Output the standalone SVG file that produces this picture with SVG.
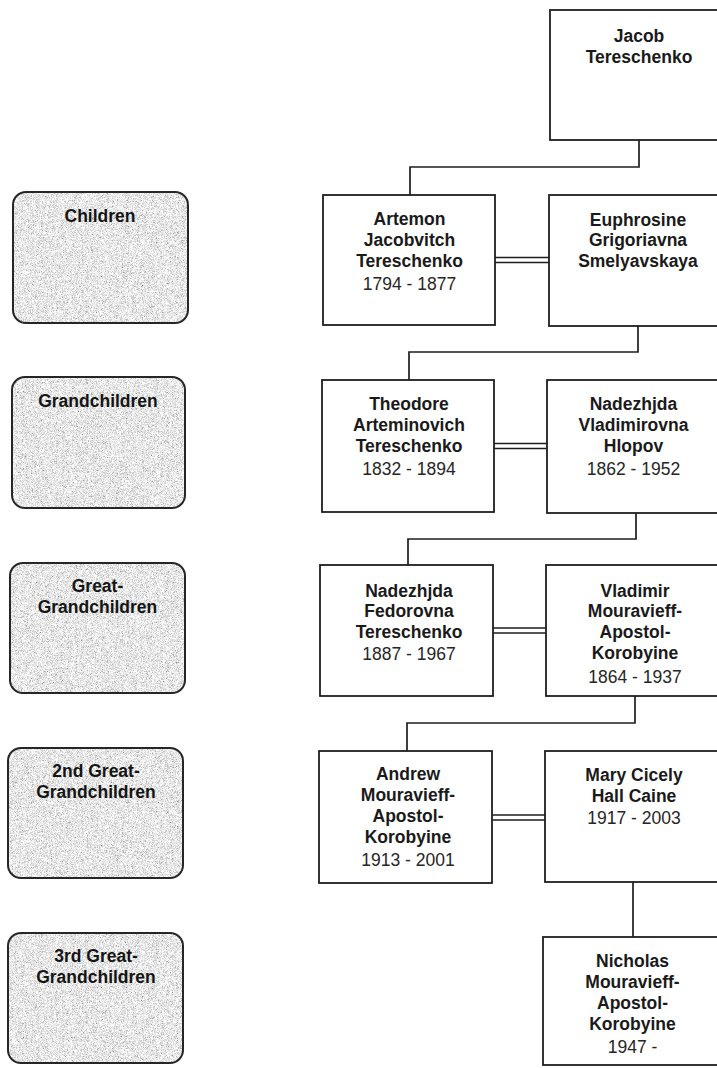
<svg xmlns="http://www.w3.org/2000/svg" width="717" height="1068" viewBox="0 0 717 1068">
  <style>
    .person rect { fill: #ffffff; stroke: #1e1e1e; stroke-width: 1.8; }
    .gen .bg { fill: #d0d0d0; }
    .gen .grain { filter: url(#grain); }
    .gen .edge { fill: none; stroke: #262626; stroke-width: 2; }
    text { font-family: "Liberation Sans", Arial, sans-serif; font-size: 17.5px; text-anchor: middle; }
    .nm { font-weight: bold; fill: #1a1a1a; }
    .yr { fill: #262626; }
    .lbl { font-weight: bold; fill: #151515; }
    #connectors path { fill: none; stroke: #1e1e1e; stroke-width: 1.7; }
    #connectors .wed { stroke-width: 1.4; }
  </style>
  <defs>
    <!-- fine stippled grey texture for the generation labels -->
    <filter id="grain" x="0" y="0" width="1" height="1">
      <feTurbulence type="fractalNoise" baseFrequency="1.8" numOctaves="2" seed="7" result="noise"/>
      <feColorMatrix in="noise" type="matrix" values="0.33 0.33 0.33 0 0  0.33 0.33 0.33 0 0  0.33 0.33 0.33 0 0  0 0 0 0 1" result="gray"/>
      <feComponentTransfer in="gray" result="tone">
        <feFuncR type="linear" slope="2.4" intercept="-0.38"/>
        <feFuncG type="linear" slope="2.4" intercept="-0.38"/>
        <feFuncB type="linear" slope="2.4" intercept="-0.38"/>
      </feComponentTransfer>
      <feComposite in="tone" in2="SourceGraphic" operator="in"/>
    </filter>
  </defs>

  <!-- generation labels -->
  <g id="gen-children" class="gen">
    <rect class="bg grain" x="13" y="192" width="175" height="131" rx="13"/>
    <rect class="edge" x="13" y="192" width="175" height="131" rx="13"/>
    <text class="lbl" x="100" y="222">Children</text>
  </g>
  <g id="gen-grandchildren" class="gen">
    <rect class="bg grain" x="12" y="377" width="173" height="131" rx="13"/>
    <rect class="edge" x="12" y="377" width="173" height="131" rx="13"/>
    <text class="lbl" x="98" y="407">Grandchildren</text>
  </g>
  <g id="gen-great" class="gen">
    <rect class="bg grain" x="10" y="563" width="175" height="130" rx="13"/>
    <rect class="edge" x="10" y="563" width="175" height="130" rx="13"/>
    <text class="lbl" x="97.5" y="592">Great-</text>
    <text class="lbl" x="97.5" y="612.5">Grandchildren</text>
  </g>
  <g id="gen-2nd-great" class="gen">
    <rect class="bg grain" x="8" y="748" width="175" height="130" rx="13"/>
    <rect class="edge" x="8" y="748" width="175" height="130" rx="13"/>
    <text class="lbl" x="96" y="777">2nd Great-</text>
    <text class="lbl" x="96" y="797.5">Grandchildren</text>
  </g>
  <g id="gen-3rd-great" class="gen">
    <rect class="bg grain" x="8" y="933" width="175" height="130" rx="13"/>
    <rect class="edge" x="8" y="933" width="175" height="130" rx="13"/>
    <text class="lbl" x="96" y="962">3rd Great-</text>
    <text class="lbl" x="96" y="982.5">Grandchildren</text>
  </g>

  <!-- descent lines and marriage bars -->
  <g id="connectors">
    <path d="M639,140 V167 H410 V195"/>
    <path d="M638,326 V352 H409 V380"/>
    <path d="M636,513 V539 H408 V565"/>
    <path d="M635,696 V723 H407 V751"/>
    <path d="M633,882 V937"/>
    <path class="wed" d="M495,257.5 H549 M495,262.5 H549"/>
    <path class="wed" d="M494,443.5 H547 M494,448.5 H547"/>
    <path class="wed" d="M493,628 H546 M493,633 H546"/>
    <path class="wed" d="M492,815 H545 M492,820 H545"/>
  </g>

  <!-- people -->
  <g id="jacob" class="person">
    <rect x="550" y="10" width="190" height="130"/>
    <text class="nm" x="639" y="42">Jacob</text>
    <text class="nm" x="639" y="62.5">Tereschenko</text>
  </g>
  <g id="artemon" class="person">
    <rect x="323" y="195" width="172" height="130"/>
    <text class="nm" x="409.5" y="225">Artemon</text>
    <text class="nm" x="409.5" y="246">Jacobvitch</text>
    <text class="nm" x="409.5" y="267">Tereschenko</text>
    <text class="yr" x="409.5" y="290">1794 - 1877</text>
  </g>
  <g id="euphrosine" class="person">
    <rect x="549" y="195" width="190" height="131"/>
    <text class="nm" x="638" y="225.5">Euphrosine</text>
    <text class="nm" x="638" y="246">Grigoriavna</text>
    <text class="nm" x="638" y="266.5">Smelyavskaya</text>
  </g>
  <g id="theodore" class="person">
    <rect x="322" y="380" width="172" height="132"/>
    <text class="nm" x="409" y="410">Theodore</text>
    <text class="nm" x="409" y="431">Arteminovich</text>
    <text class="nm" x="409" y="452">Tereschenko</text>
    <text class="yr" x="409" y="475">1832 - 1894</text>
  </g>
  <g id="nadezhjda-hlopov" class="person">
    <rect x="547" y="380" width="190" height="133"/>
    <text class="nm" x="633.5" y="410">Nadezhjda</text>
    <text class="nm" x="633.5" y="431">Vladimirovna</text>
    <text class="nm" x="633.5" y="452">Hlopov</text>
    <text class="yr" x="633.5" y="475">1862 - 1952</text>
  </g>
  <g id="nadezhjda-tereschenko" class="person">
    <rect x="320" y="565" width="173" height="131"/>
    <text class="nm" x="409" y="596.5">Nadezhjda</text>
    <text class="nm" x="409" y="617">Fedorovna</text>
    <text class="nm" x="409" y="637.5">Tereschenko</text>
    <text class="yr" x="409" y="660">1887 - 1967</text>
  </g>
  <g id="vladimir" class="person">
    <rect x="546" y="565" width="190" height="131"/>
    <text class="nm" x="635" y="596.5">Vladimir</text>
    <text class="nm" x="635" y="617">Mouravieff-</text>
    <text class="nm" x="635" y="637.5">Apostol-</text>
    <text class="nm" x="635" y="658.5">Korobyine</text>
    <text class="yr" x="635" y="682.5">1864 - 1937</text>
  </g>
  <g id="andrew" class="person">
    <rect x="319" y="751" width="173" height="132"/>
    <text class="nm" x="408" y="780">Andrew</text>
    <text class="nm" x="408" y="801">Mouravieff-</text>
    <text class="nm" x="408" y="822">Apostol-</text>
    <text class="nm" x="408" y="843">Korobyine</text>
    <text class="yr" x="408" y="866">1913 - 2001</text>
  </g>
  <g id="mary" class="person">
    <rect x="545" y="751" width="190" height="131"/>
    <text class="nm" x="634" y="780.5">Mary Cicely</text>
    <text class="nm" x="634" y="801.5">Hall Caine</text>
    <text class="yr" x="634" y="823.5">1917 - 2003</text>
  </g>
  <g id="nicholas" class="person">
    <rect x="543" y="937" width="190" height="128"/>
    <text class="nm" x="632.5" y="967">Nicholas</text>
    <text class="nm" x="632.5" y="988">Mouravieff-</text>
    <text class="nm" x="632.5" y="1009">Apostol-</text>
    <text class="nm" x="632.5" y="1030">Korobyine</text>
    <text class="yr" x="632.5" y="1053">1947 -</text>
  </g>
</svg>
